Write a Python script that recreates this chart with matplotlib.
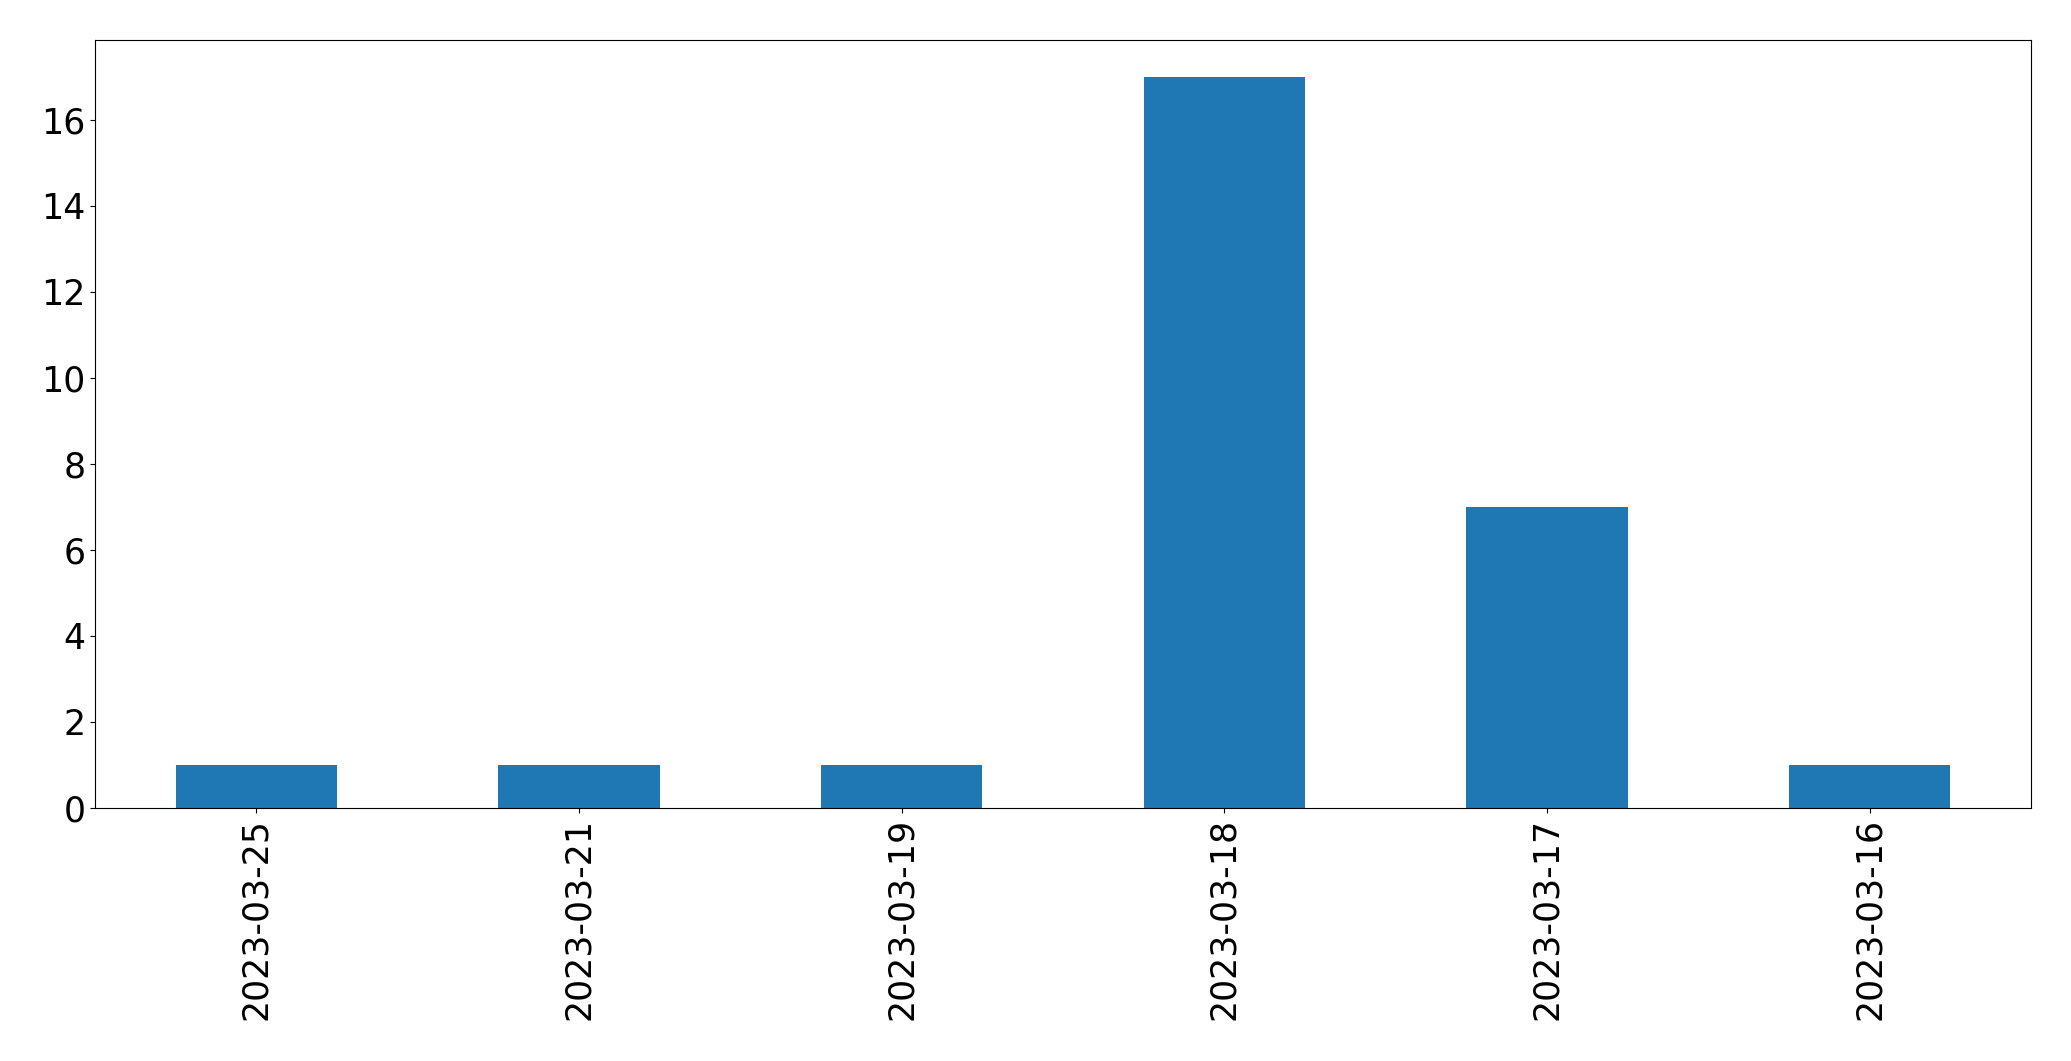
import matplotlib
matplotlib.use("Agg")
import matplotlib.pyplot as plt
import pandas as pd

dates = ["2023-03-25", "2023-03-21", "2023-03-19", "2023-03-18", "2023-03-17", "2023-03-16"]
counts = [1, 1, 1, 17, 7, 1]

s = pd.Series(counts, index=dates)

fig = plt.figure(figsize=(20.71, 10.61), dpi=100)
ax = fig.add_axes([95 / 2071, 1 - 808 / 1061, (2031 - 95) / 2071, (808 - 40) / 1061])
s.plot.bar(ax=ax, color="#1f77b4")
ax.tick_params(labelsize=25)

fig.savefig("out.png", dpi=100)
